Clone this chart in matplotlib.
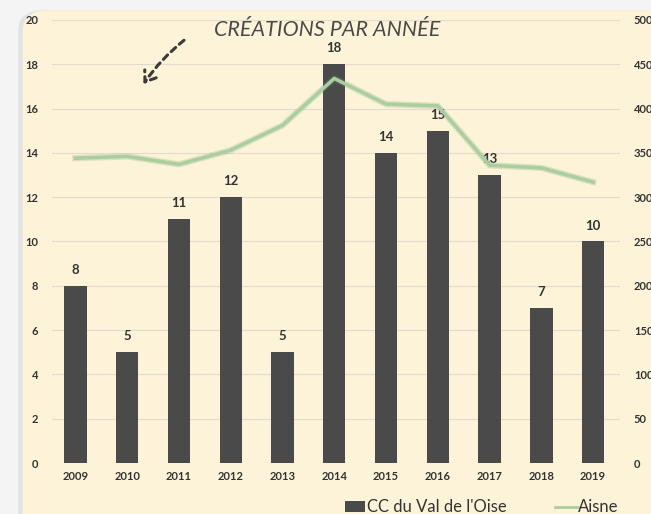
import matplotlib.pyplot as plt
import numpy as np
from matplotlib.patches import FancyBboxPatch, FancyArrowPatch

annees = ['2009', '2010', '2011', '2012', '2013', '2014', '2015', '2016', '2017', '2018', '2019']
cc_val_oise = [8, 5, 11, 12, 5, 18, 14, 15, 13, 7, 10]
aisne = [344, 346, 337, 353, 381, 434, 405, 403, 336, 333, 317]

plt.rcParams['font.family'] = ['Lato', 'DejaVu Sans']

fond = '#fcf3d9'
gris = '#4a4a4a'
vert = '#a9cf9f'

fig = plt.figure(figsize=(6.51, 5.14), dpi=100)
fig.patch.set_facecolor('#f4f4f4')

# fond arrondi + ombre
fig.patches.append(FancyBboxPatch((0.028, -0.05), 1.0, 1.03,
                                  boxstyle='round,pad=0,rounding_size=0.04',
                                  transform=fig.transFigure, facecolor='#e2e2e2',
                                  edgecolor='none', zorder=-2))
fig.patches.append(FancyBboxPatch((0.035, -0.05), 1.0, 1.03,
                                  boxstyle='round,pad=0,rounding_size=0.04',
                                  transform=fig.transFigure, facecolor=fond,
                                  edgecolor='none', zorder=-1))

ax = fig.add_axes([0.08, 0.0992, 0.8725, 0.862])
ax.set_facecolor('none')
x = np.arange(len(annees))

ax.bar(x, cc_val_oise, width=0.43, color=gris, zorder=3)
for xi, v in zip(x, cc_val_oise):
    ax.text(xi, v + 0.45, str(v), ha='center', va='bottom', fontsize=9.5,
            color='#333333', fontweight='bold')

ax.set_ylim(0, 20)
ax.set_xlim(-0.45, 10.52)
ax.set_yticks(range(0, 21, 2))
ax.set_xticks(x)
ax.set_xticklabels(annees)
ax.grid(axis='y', color='#e2dccb', linewidth=0.8, zorder=0)
ax.set_axisbelow(True)
for s in ax.spines.values():
    s.set_visible(False)
ax.tick_params(length=0, labelsize=8, colors='#333333', pad=10)
ax.tick_params(axis='x', pad=6)
for lab in ax.get_xticklabels() + ax.get_yticklabels():
    lab.set_fontweight('bold')

ax2 = ax.twinx()
ax2.plot(x, aisne, color='#7fa77a', linewidth=4.5, alpha=0.25, zorder=4)
ax2.plot(x, aisne, color=vert, linewidth=2.5, zorder=5)
ax2.set_ylim(0, 500)
ax2.set_yticks(range(0, 501, 50))
for s in ax2.spines.values():
    s.set_visible(False)
ax2.tick_params(length=0, labelsize=8, colors='#333333', pad=10)
for lab in ax2.get_yticklabels():
    lab.set_fontweight('bold')

fig.text(0.502, 0.942, 'CRÉATIONS PAR ANNÉE', ha='center', va='center',
         fontsize=15.5, style='italic', color='#4a4a4a')

fleche = FancyArrowPatch((0.286, 0.925), (0.218, 0.832), transform=fig.transFigure,
                         connectionstyle='arc3,rad=0.08', arrowstyle='->,head_length=7,head_width=5',
                         linestyle=(0, (2, 1.6)), linewidth=2.2, color='#3a3a3a')
fig.patches.append(fleche)

# legende
fig.patches.append(plt.Rectangle((0.53, 0.004), 0.03, 0.022, transform=fig.transFigure,
                                 facecolor=gris, edgecolor='none'))
fig.text(0.563, 0.014, "CC du Val de l'Oise", fontsize=12, color='#333333', va='center')
fig.lines.append(plt.Line2D([0.852, 0.888], [0.014, 0.014], transform=fig.transFigure,
                            color=vert, linewidth=2))
fig.text(0.888, 0.014, 'Aisne', fontsize=12, color='#333333', va='center')

fig.savefig('out.png', dpi=100, facecolor=fig.get_facecolor())
